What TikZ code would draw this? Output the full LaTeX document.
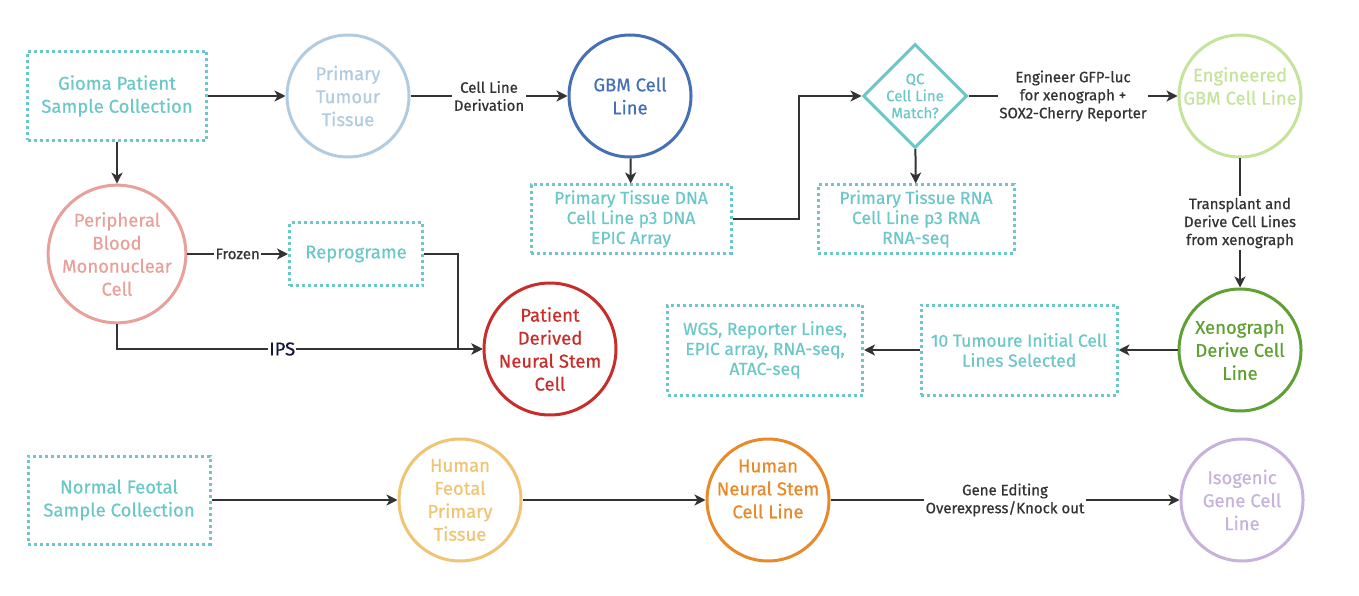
\documentclass[tikz,border=0pt]{standalone}
\usepackage{fontspec}
\setmainfont{Fira Sans}[UprightFeatures={FakeBold=0.6}]
\usetikzlibrary{shapes.geometric,arrows.meta}

\definecolor{sampcol}{HTML}{6CC8C8}
\definecolor{tumcol}{HTML}{B1CBE1}
\definecolor{gbmcol}{HTML}{4670B4}
\definecolor{engcol}{HTML}{C5E39B}
\definecolor{pbmccol}{HTML}{E8A09A}
\definecolor{patcol}{HTML}{C72E2B}
\definecolor{xenocol}{HTML}{5EA032}
\definecolor{feocol}{HTML}{EFC472}
\definecolor{nsccol}{HTML}{E8892A}
\definecolor{isocol}{HTML}{C6B2DA}
\definecolor{linecol}{HTML}{333333}
\definecolor{ipscol}{HTML}{14143C}

\begin{document}
\begin{tikzpicture}[x=1pt,y=-1pt,
  every node/.style={font=\fontsize{18.5}{23}\selectfont, align=center},
  sample/.style={draw=sampcol, text=sampcol, line width=3pt,
    dash pattern=on 3pt off 3pt, inner sep=0pt},
  tight/.style={font=\fontsize{17.5}{20}\selectfont},
  cell/.style={circle, line width=3pt, minimum size=122pt, inner sep=0pt},
  conn/.style={draw=linecol, line width=2pt,
    -{Stealth[length=11pt,width=11pt,inset=3pt]}},
  lbl/.style={font=\fontsize{15}{18}\selectfont, text=linecol, fill=white,
    inner sep=1.5pt}]
\useasboundingbox (0,0) rectangle (1359,596);

% glioma branch
\node[sample, minimum width=179pt, minimum height=89pt] (gioma) at (117,96)
  {Gioma Patient\\Sample Collection};
\node[cell, draw=tumcol, text=tumcol] (tumour) at (348,96)
  {Primary\\Tumour\\Tissue};
\node[cell, draw=gbmcol, text=gbmcol] (gbm) at (630,96) {GBM Cell\\Line};
\node[diamond, draw=sampcol, text=sampcol, line width=3pt, inner sep=0pt,
  minimum width=104pt, minimum height=104pt,
  font=\fontsize{15}{17}\selectfont] (qc) at (915,96)
  {QC\\Cell Line\\Match?};
\node[cell, draw=engcol,
  label={[text=engcol, yshift=10pt]center:{Engineered\\GBM Cell Line}}]
  (eng) at (1240,96) {};
\node[sample, tight, minimum width=200pt, minimum height=68pt] (dna) at (631,219)
  {Primary Tissue DNA\\Cell Line p3 DNA\\EPIC Array};
\node[sample, tight, minimum width=196pt, minimum height=68pt] (rna) at (916,219)
  {Primary Tissue RNA\\Cell Line p3 RNA\\RNA-seq};
\node[cell, draw=xenocol, text=xenocol] (xeno) at (1240,350)
  {Xenograph\\Derive Cell\\Line};
\node[sample, tight, minimum width=196pt, minimum height=90pt] (tumoure) at (1019,350)
  {10 Tumoure Initial Cell\\Lines Selected};
\node[sample, tight, minimum width=195pt, minimum height=90pt] (wgs) at (765,350)
  {WGS, Reporter Lines,\\EPIC array, RNA-seq,\\ATAC-seq};

% patient stem cells
\node[cell, draw=pbmccol, text=pbmccol] (pbmc) at (117,254)
  {Peripheral\\Blood\\Mononuclear\\Cell};
\node[sample, minimum width=133pt, minimum height=63pt] (reprog) at (356,254)
  {Reprograme};
\node[cell, draw=patcol, text=patcol] (patient) at (550,349)
  {Patient\\Derived\\Neural Stem\\Cell};

% normal branch
\node[sample, minimum width=182pt, minimum height=88pt] (normal) at (119,500)
  {Normal Feotal\\Sample Collection};
\node[cell, draw=feocol, text=feocol] (hfeotal) at (460,500)
  {Human\\Feotal\\Primary\\Tissue};
\node[cell, draw=nsccol,
  label={[text=nsccol, yshift=11pt]center:{Human\\Neural Stem\\Cell Line}}]
  (hnsc) at (768,500) {};
\node[cell, draw=isocol, text=isocol] (iso) at (1242,500)
  {Isogenic\\Gene Cell\\Line};

\draw[conn] (gioma) -- (tumour);
\draw[conn] (tumour) -- node[lbl]{Cell Line\\Derivation} (gbm);
\draw[conn] (gbm) -- (dna);
\draw[conn] (dna.east) -- ++(66,0) |- (qc.west);
\draw[conn] (qc) -- node[lbl]{Engineer GFP-luc\\for xenograph +\\SOX2-Cherry Reporter} (eng);
\draw[conn] (qc) -- (rna);
\draw[conn] (eng) -- node[lbl]{Transplant and\\Derive Cell Lines\\from xenograph} (xeno);
\draw[conn] (xeno) -- (tumoure);
\draw[conn] (tumoure) -- (wgs);

\draw[conn] (gioma) -- (pbmc);
\draw[conn] (pbmc) -- node[lbl]{Frozen} (reprog);
\draw[conn] (reprog.east) -- ++(34,0) |- (patient.west);
\draw[conn] (pbmc.south) |- node[pos=0.726, fill=white, inner sep=1pt,
  text=ipscol]{IPS} (patient.west);

\draw[conn] (normal) -- (hfeotal);
\draw[conn] (hfeotal) -- (hnsc);
\draw[conn] (hnsc) -- node[lbl]{Gene Editing\\Overexpress/Knock out} (iso);
\end{tikzpicture}
\end{document}
